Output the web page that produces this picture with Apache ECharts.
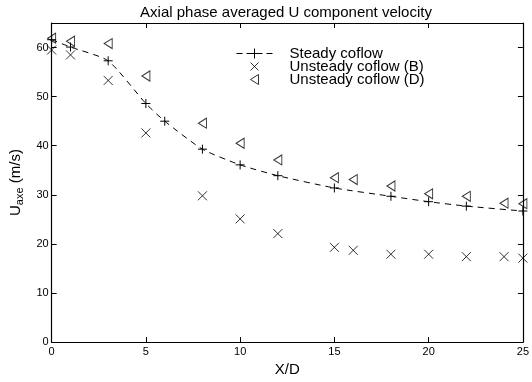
<!DOCTYPE html>
<html><head><meta charset="utf-8">
<script src="https://cdn.jsdelivr.net/npm/echarts@6/dist/echarts.min.js"></script>
<style>html,body{margin:0;padding:0;background:#fff}#c{width:532px;height:382px}</style>
</head><body><div id="c"></div>
<script>
const titleText = 'Axial phase averaged U component velocity';
const xTicks = [0, 5, 10, 15, 20, 25];
const yTicks = [0, 10, 20, 30, 40, 50, 60];
const steadyX = [0, 1, 3, 5, 6, 8, 10, 12, 15, 18, 20, 22, 25];
const steadyY = [61.6, 60.1, 57.3, 48.6, 45.0, 39.3, 36.1, 33.9, 31.4, 29.7, 28.6, 27.7, 26.7];
const unsteadyBX = [0, 1, 3, 5, 8, 10, 12, 15, 16, 18, 20, 22, 24, 25];
const unsteadyBY = [59.5, 58.5, 53.3, 42.6, 29.8, 25.1, 22.1, 19.3, 18.7, 17.9, 17.9, 17.4, 17.4, 17.1];
const unsteadyDX = [0, 1, 3, 5, 8, 10, 12, 15, 16, 18, 20, 22, 24, 25];
const unsteadyDY = [61.9, 61.3, 60.8, 54.2, 44.6, 40.5, 37.1, 33.5, 33.1, 31.8, 30.2, 29.7, 28.3, 28.2];
const seriesNames = ['Steady coflow', 'Unsteady coflow (B)', 'Unsteady coflow (D)'];

const plusPath = 'path://M5,0L5,10M0,5L10,5';
const crossPath = 'path://M0,0L10,10M10,0L0,10';
const triPath = 'path://M0,5L10,0L10,10Z';
const legSteady = 'path://M0,5L6,5M10,5L26,5M30,5L36,5M18,0L18,10';
const legB = 'path://M0,5L0,5M14,1L22,9M22,1L14,9M36,5L36,5';
const legD = 'path://M0,5L0,5M14,5L22,0L22,10ZM36,5L36,5';

const zip = (a, b) => a.map((v, i) => [v, b[i]]);
const font = 'Liberation Sans, Arial, Helvetica, sans-serif';
const stroke = {color: 'none', borderColor: '#000', borderWidth: 1};

const chart = echarts.init(document.getElementById('c'), null, {renderer: 'canvas'});
const axisCommon = {
  axisLine: {show: true, onZero: false, lineStyle: {color: '#000', width: 1.2}},
  axisTick: {show: true, inside: true, length: 5, lineStyle: {color: '#000', width: 1}},
  splitLine: {show: false}
};
chart.setOption({
  animation: false,
  backgroundColor: '#fff',
  title: {text: titleText, left: 286, top: 5, textAlign: 'center', padding: 0,
    textStyle: {fontFamily: font, fontSize: 15, fontWeight: 'normal', color: '#000'}},
  grid: {left: 47, right: 7, top: 23, bottom: 33, containLabel: false},
  legend: {
    orient: 'vertical', left: 234, top: 46, itemGap: -2, itemWidth: 36, itemHeight: 10, padding: 0,
    textStyle: {fontFamily: font, fontSize: 15, color: '#000', lineHeight: 13, padding: [0, 0, 0, 12]},
    data: [
      {name: seriesNames[0], icon: legSteady, itemStyle: stroke},
      {name: seriesNames[1], icon: legB, itemStyle: stroke},
      {name: seriesNames[2], icon: legD, itemStyle: stroke}
    ]
  },
  xAxis: [
    Object.assign({type: 'value', min: xTicks[0], max: xTicks[xTicks.length - 1], interval: 5, position: 'bottom',
      name: 'X/D', nameLocation: 'middle', nameGap: 15,
      nameTextStyle: {fontFamily: font, fontSize: 15, color: '#000'},
      axisLabel: {fontFamily: font, fontSize: 11, color: '#000', margin: 4}}, axisCommon),
    Object.assign({type: 'value', min: xTicks[0], max: xTicks[xTicks.length - 1], interval: 5, position: 'top',
      axisLabel: {show: false}}, axisCommon)
  ],
  yAxis: [
    Object.assign({type: 'value', min: yTicks[0], max: 65, interval: 10, position: 'left',
      name: '{u|U}{s|axe}{u| (m/s)}', nameLocation: 'middle', nameGap: 19, nameRotate: 90,
      nameTextStyle: {fontFamily: font, color: '#000',
        rich: {u: {fontFamily: font, fontSize: 15, color: '#000'},
               s: {fontFamily: font, fontSize: 11, color: '#000', verticalAlign: 'bottom', padding: [9, 0, 0, 0]}}},
      axisLabel: {fontFamily: font, fontSize: 11, color: '#000', margin: 3, showMaxLabel: false}}, axisCommon),
    Object.assign({type: 'value', min: yTicks[0], max: 65, interval: 10, position: 'right',
      axisLabel: {show: false}}, axisCommon)
  ],
  series: [
    {name: seriesNames[0], type: 'line', smooth: 0.2, data: zip(steadyX, steadyY),
      symbol: plusPath, symbolSize: 9, showAllSymbol: true,
      lineStyle: {color: '#000', width: 1, type: [6, 5]},
      itemStyle: stroke},
    {name: seriesNames[1], type: 'scatter', data: zip(unsteadyBX, unsteadyBY),
      symbol: crossPath, symbolSize: 9, itemStyle: stroke},
    {name: seriesNames[2], type: 'scatter', data: zip(unsteadyDX, unsteadyDY),
      symbol: triPath, symbolSize: [8, 10], itemStyle: stroke}
  ]
});
</script></body></html>
